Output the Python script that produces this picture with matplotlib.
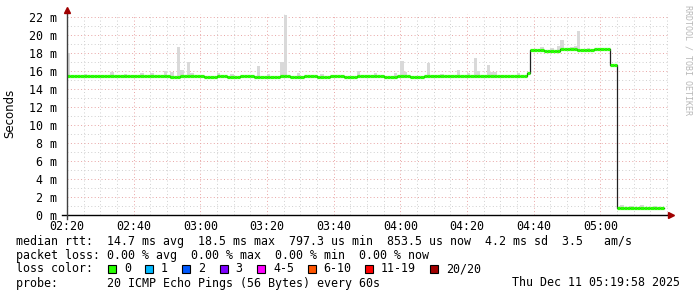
import numpy as np
import matplotlib
matplotlib.use('Agg')
from matplotlib import pyplot as plt
from matplotlib.patches import Rectangle
from matplotlib.lines import Line2D

# minutes after 02:20, step changes of the median rtt (ms)
med_start = [0, 4, 8, 13, 17, 22, 27, 31, 34, 37, 41, 45, 48, 52, 56, 60, 64, 67, 71, 75,
             79, 83, 87, 91, 95, 99, 103, 107, 111, 116, 120, 124, 128, 132, 138, 139, 143,
             148, 153, 158, 163, 165]
med_val = [15.4, 15.5, 15.4, 15.5, 15.4, 15.5, 15.4, 15.3, 15.4, 15.5, 15.3, 15.4, 15.3, 15.4,
           15.3, 15.3, 15.4, 15.3, 15.4, 15.3, 15.4, 15.3, 15.4, 15.4, 15.3, 15.4, 15.3, 15.4,
           15.4, 15.5, 15.4, 15.5, 15.4, 15.4, 15.8, 18.3, 18.2, 18.4, 18.3, 18.4, 16.7, 0.8]
med_end = 179

# smoke (max ping) per minute where it shows above the median
smoke_min = [0, 5, 13, 17, 22, 25, 29, 31, 33, 34, 36, 37, 45, 49, 57, 60, 64, 65, 69,
             76, 87, 92, 98, 100, 101, 108, 112, 117, 120, 122, 123, 126, 127, 128, 135,
             142, 145, 147, 148, 151, 152, 153, 156, 159, 166, 169, 172, 176]
smoke_top = [18.0, 15.7, 15.9, 15.7, 15.8, 15.8, 16.0, 15.9, 18.7, 16.1, 17.0, 15.8, 15.8,
             15.7, 16.6, 15.7, 17.0, 22.2, 15.8, 15.7, 16.0, 15.8, 15.8, 17.1, 15.9, 16.9,
             15.7, 16.1, 15.8, 17.5, 16.0, 16.7, 15.9, 15.9, 15.8, 18.7, 18.6, 18.8, 19.4,
             18.7, 18.8, 20.4, 18.6, 18.6, 1.1, 1.0, 1.1, 1.0]

xtick_pos = [0, 20, 40, 60, 80, 100, 120, 140, 160]
xtick_lab = ['02:20', '02:40', '03:00', '03:20', '03:40', '04:00', '04:20', '04:40', '05:00']

loss_labels = ['0', '1', '2', '3', '4-5', '6-10', '11-19', '20/20']
loss_colors = ['#26ff00', '#00b8ff', '#0059ff', '#7e00ff', '#ff00ff', '#ff5500', '#ff0000', '#a10000']

W, H = 697, 297
mono = 'DejaVu Sans Mono'
fs = 8.4

fig = plt.figure(figsize=(W / 100, H / 100), dpi=100)
fig.patch.set_facecolor('white')
ax = fig.add_axes([67 / W, 82 / H, 602 / W, 200.7 / H])
ax.set_xlim(0, 180.6)
ax.set_ylim(0, 22.3)

# grid
ax.set_xticks(xtick_pos)
ax.set_xticks(np.arange(0, 181, 5), minor=True)
ax.set_yticks(np.arange(0, 23, 2))
ax.set_yticks(np.arange(0, 23, 1), minor=True)
ax.grid(which='minor', color='#cfcfcf', ls=(0, (1, 2.5)), lw=0.7)
ax.grid(which='major', color='#e8a4a4', ls=(0, (1, 2.5)), lw=0.7)
ax.set_axisbelow(True)
ax.tick_params(which='both', length=0)
ax.tick_params(axis='y', pad=7)
ax.tick_params(axis='x', pad=3.5)
ax.set_xticklabels(xtick_lab, family=mono, fontsize=fs)
ax.set_yticklabels(['%d m' % v for v in range(0, 23, 2)], family=mono, fontsize=fs)
for s in ax.spines.values():
    s.set_visible(False)

# expand median runs to per-minute values
lens = np.diff(med_start + [med_end])
med = np.repeat(med_val, lens)
mins = np.arange(len(med))

# smoke
for m, t in zip(smoke_min, smoke_top):
    b = med[m] - 0.15
    ax.add_patch(Rectangle((m, b), 1, t - b, facecolor='#d9d9d9', edgecolor='none', zorder=2))

# median: thin dark step line + thick green per-minute segments
xs = np.append(mins, len(med))
ax.step(xs, np.append(med, med[-1]), where='post', color='#202020', lw=0.9, zorder=3)
ax.hlines(med, mins, mins + 1, color=loss_colors[0], lw=2.3, zorder=4, capstyle='butt')

# axes lines with arrows
fig.add_artist(Line2D([62 / W, 668 / W], [1 - 215 / H, 1 - 215 / H], color='black', lw=1))
fig.add_artist(Line2D([67 / W, 67 / W], [1 - 219 / H, 1 - 12 / H], color='#404040', lw=1))
fig.add_artist(Line2D([671 / W], [1 - 215 / H], marker='>', color='#a00000', ms=4, lw=0))
fig.add_artist(Line2D([67 / W], [1 - 10 / H], marker='^', color='#a00000', ms=4, lw=0))

fig.text(10 / W, 1 - 113 / H, 'Seconds', rotation=90, ha='center', va='center',
         family='DejaVu Sans', fontsize=8.5)
fig.text(688 / W, 1 - 5 / H, 'RRDTOOL / TOBI OETIKER', rotation=-90, ha='center', va='top',
         family=mono, fontsize=6, color='#b8b8b8')

# legend lines
def line(y, s):
    fig.text(16 / W, 1 - y / H, s, family=mono, fontsize=fs, va='center', ha='left')

line(241, 'median rtt:  14.7 ms avg  18.5 ms max  797.3 us min  853.5 us now  4.2 ms sd  3.5   am/s')
line(255, 'packet loss: 0.00 % avg  0.00 % max  0.00 % min  0.00 % now')
line(269, 'loss color:')
line(283, 'probe:       20 ICMP Echo Pings (56 Bytes) every 60s')
fig.text(680 / W, 1 - 283 / H, 'Thu Dec 11 05:19:58 2025', family=mono, fontsize=fs,
         va='center', ha='right')

box_x = [108, 145, 182, 219.5, 257, 307.5, 365, 430]
for bx, lab, c in zip(box_x, loss_labels, loss_colors):
    fig.add_artist(Rectangle((bx / W, 1 - 273 / H), 8 / W, 8 / H, facecolor=c,
                             edgecolor='black', lw=0.8))
    fig.text((bx + 16) / W, 1 - 269 / H, lab, family=mono, fontsize=fs, va='center', ha='left')

fig.savefig('out.png', dpi=100)
